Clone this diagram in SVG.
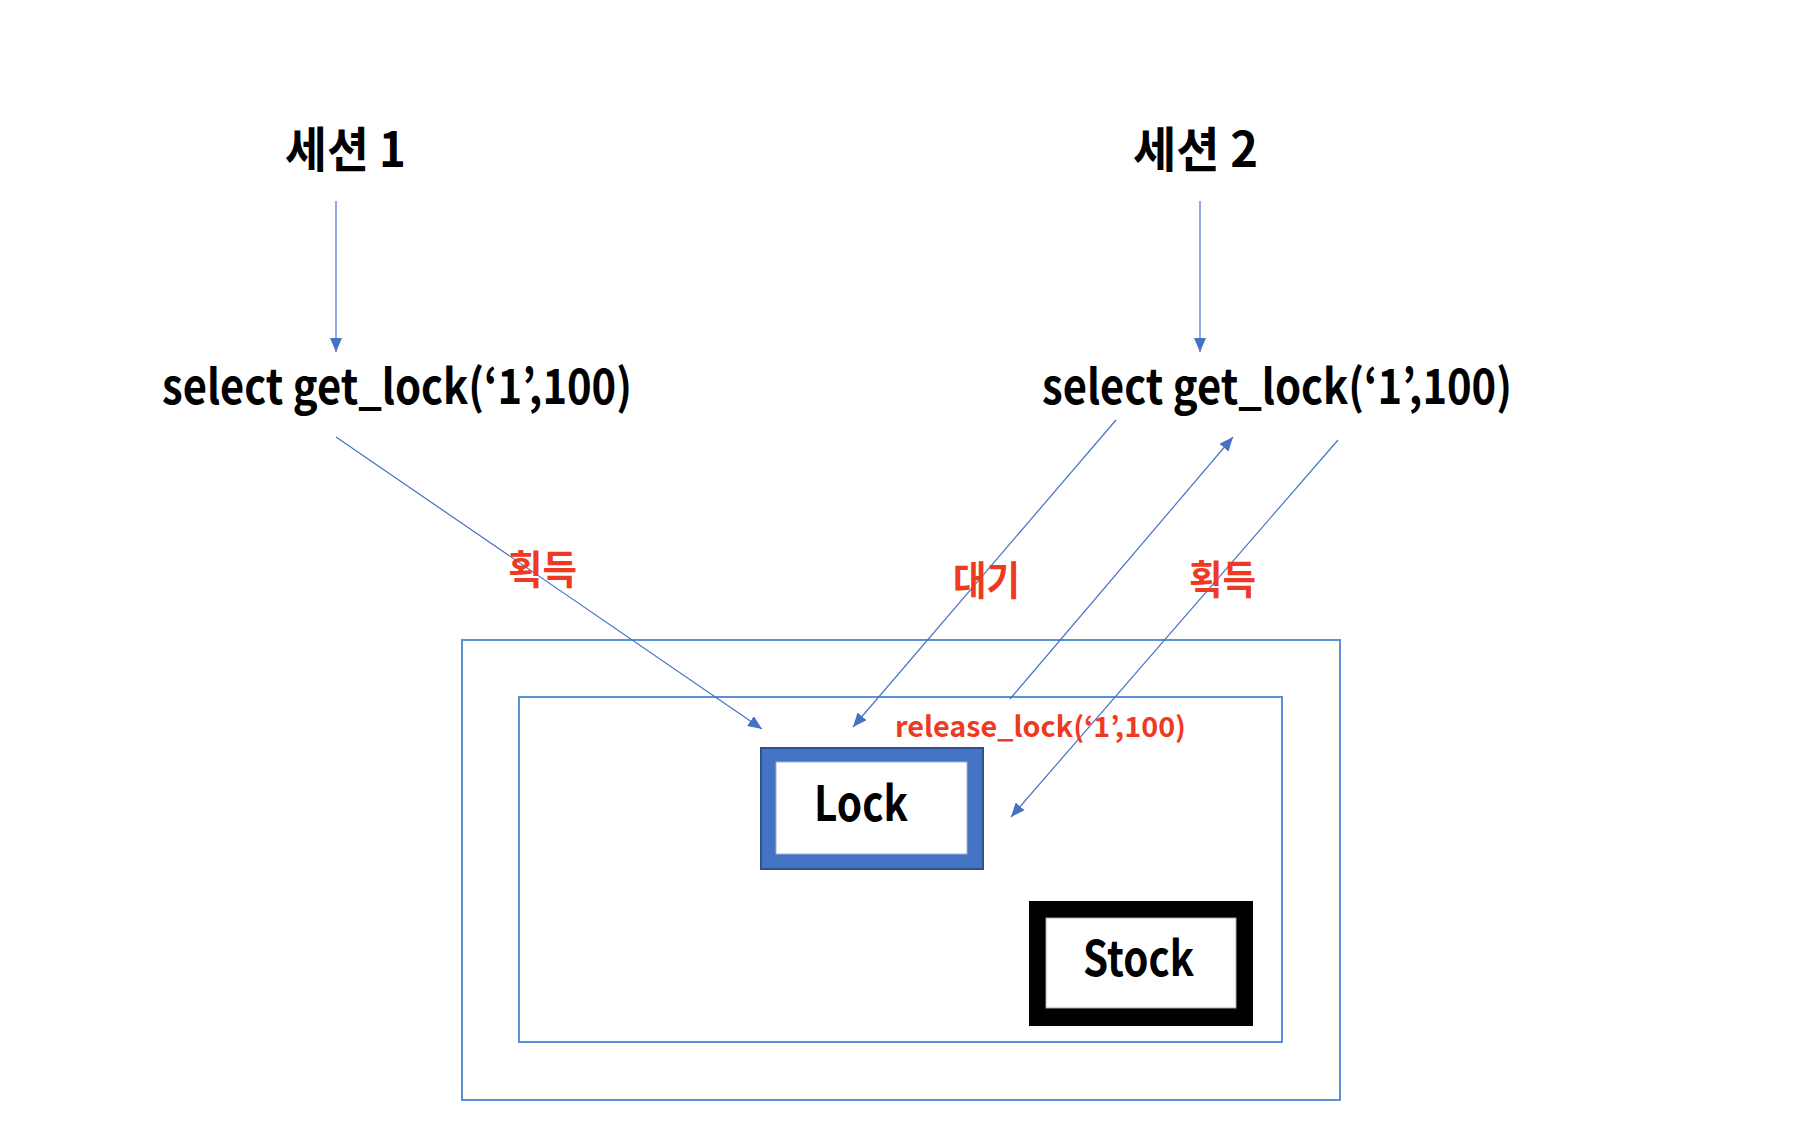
<svg xmlns="http://www.w3.org/2000/svg" width="1810" height="1134" viewBox="0 0 1810 1134">
<style>
  text { font-family: "Noto Sans CJK KR", "Noto Sans", sans-serif; font-weight: bold; }
  .big { font-size: 48px; fill: #000; }
  .red { fill: #EE3A22; }
  .conn { stroke: #4472C4; stroke-width: 1.2; fill: none; }
  .frame { fill: none; stroke: #5B8FD6; stroke-width: 2; }
</style>
<defs>
  <marker id="arr" markerUnits="userSpaceOnUse" viewBox="0 0 14 12" markerWidth="14" markerHeight="12" refX="14" refY="6" orient="auto">
    <path d="M0,0 L14,6 L0,12 z" fill="#4472C4"/>
  </marker>
</defs>
<rect width="1810" height="1134" fill="#fff"/>

<g id="outer-frame"><rect class="frame" x="462" y="640" width="878" height="460"/></g>
<g id="inner-frame"><rect class="frame" x="519" y="697" width="763" height="345" stroke="#7FA6E0"/></g>

<g id="session1"><text class="big" x="285" y="167" textLength="121" lengthAdjust="spacingAndGlyphs">세션 1</text></g>
<g id="session2"><text class="big" x="1133" y="167" textLength="125" lengthAdjust="spacingAndGlyphs">세션 2</text></g>
<g id="query1"><text class="big" x="162" y="404" textLength="470" lengthAdjust="spacingAndGlyphs">select get_lock(‘1’,100)</text></g>
<g id="query2"><text class="big" x="1042" y="404" textLength="470" lengthAdjust="spacingAndGlyphs">select get_lock(‘1’,100)</text></g>

<g id="lock">
  <rect x="761" y="748" width="222" height="121" fill="#4472C4" stroke="#2F528F" stroke-width="2"/>
  <rect x="776" y="762" width="191" height="92" fill="#fff" stroke="#A6AEBE" stroke-width="1"/>
  <text class="big" x="814" y="821" textLength="94" lengthAdjust="spacingAndGlyphs">Lock</text>
</g>
<g id="stock">
  <rect x="1029" y="901" width="224" height="125" fill="#000"/>
  <rect x="1046" y="918" width="190" height="90" fill="#fff" stroke="#A6A6A6" stroke-width="1"/>
  <text class="big" x="1083" y="976" textLength="111" lengthAdjust="spacingAndGlyphs">Stock</text>
</g>

<g id="connectors">
  <line class="conn" x1="336" y1="201" x2="336" y2="352" marker-end="url(#arr)"/>
  <line class="conn" x1="1200" y1="201" x2="1200" y2="352" marker-end="url(#arr)"/>
  <line class="conn" x1="336" y1="437" x2="762" y2="729" marker-end="url(#arr)"/>
  <line class="conn" x1="1116" y1="420" x2="853" y2="727" marker-end="url(#arr)"/>
  <line class="conn" x1="1010" y1="699" x2="1233" y2="437" marker-end="url(#arr)"/>
  <line class="conn" x1="1338" y1="440" x2="1011" y2="817" marker-end="url(#arr)"/>
</g>

<g id="labels">
  <text class="red" font-size="40" x="508" y="584" textLength="69" lengthAdjust="spacingAndGlyphs">획득</text>
  <text class="red" font-size="40" x="953" y="595" textLength="67" lengthAdjust="spacingAndGlyphs">대기</text>
  <text class="red" font-size="40" x="1189" y="594" textLength="67" lengthAdjust="spacingAndGlyphs">획득</text>
  <text class="red" font-size="28" x="895" y="737" textLength="291" lengthAdjust="spacingAndGlyphs">release_lock(‘1’,100)</text>
</g>
</svg>
